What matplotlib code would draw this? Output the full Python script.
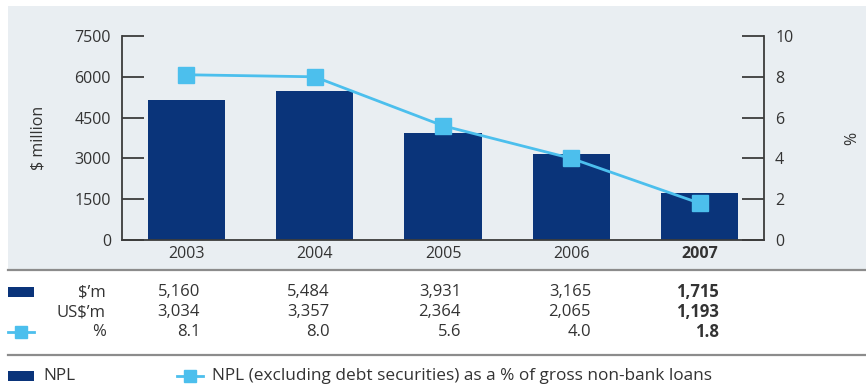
import matplotlib
matplotlib.use("Agg")
import matplotlib.pyplot as plt
from matplotlib.patches import Rectangle
from matplotlib.lines import Line2D

plt.rcParams['font.family'] = ['Open Sans', 'DejaVu Sans']

years = ["2003", "2004", "2005", "2006", "2007"]
npl_sgd = [5160, 5484, 3931, 3165, 1715]
npl_usd = [3034, 3357, 2364, 2065, 1193]
npl_pct = [8.1, 8.0, 5.6, 4.0, 1.8]
left_ticks = [0, 1500, 3000, 4500, 6000, 7500]
right_ticks = [0, 2, 4, 6, 8, 10]
row_labels = ["$\u2019m", "US$\u2019m", "%"]

NAVY = "#0a347a"
SKY = "#4cbfed"
PANEL = "#e9eef2"
TXT = "#333333"
SPINE = "#3c3c3c"
FS = 11.5

W, H = 866, 386
fig = plt.figure(figsize=(W / 100, H / 100), dpi=100)
fig.patch.set_facecolor("white")

def fx(px):
    return px / W

def fy(py):
    return 1 - py / H

# background panel
fig.patches.append(Rectangle((fx(8), fy(269)), 1 - fx(8), fy(6) - fy(269),
                             transform=fig.transFigure, facecolor=PANEL,
                             edgecolor="none", zorder=-5))

ax = fig.add_axes([fx(122), fy(240), fx(764) - fx(122), fy(36) - fy(240)])
ax.set_facecolor("none")
x = list(range(len(years)))
ax.bar(x, npl_sgd, width=0.6, color=NAVY, zorder=2)
ax.set_xlim(-0.5, 4.5)
ax.set_ylim(0, 7500)
ax.set_yticks(left_ticks)
ax.set_yticklabels([str(t) for t in left_ticks])
ax.set_xticks(x)
ax.set_xticklabels(years)
for lab in ax.get_xticklabels():
    if lab.get_text() == years[-1]:
        lab.set_fontweight("bold")
ax.tick_params(axis="y", direction="in", length=16, width=1.3, color=SPINE,
               labelsize=FS, labelcolor=TXT, pad=8)
ax.tick_params(axis="x", length=0, labelsize=FS, labelcolor=TXT, pad=4)
for s in ["top", "right"]:
    ax.spines[s].set_visible(False)
for s in ["left", "bottom"]:
    ax.spines[s].set_color(SPINE)
    ax.spines[s].set_linewidth(1.3)

ax2 = ax.twinx()
ax2.plot(x, npl_pct, color=SKY, lw=2, marker="s", ms=11, zorder=3)
ax2.set_ylim(0, 10)
ax2.set_yticks(right_ticks)
ax2.set_yticklabels([str(t) for t in right_ticks])
ax2.tick_params(axis="y", direction="in", length=16, width=1.3, color=SPINE,
                labelsize=FS, labelcolor=TXT, pad=8)
for s in ["top", "left", "bottom"]:
    ax2.spines[s].set_visible(False)
ax2.spines["right"].set_color(SPINE)
ax2.spines["right"].set_linewidth(1.3)

fig.text(fx(38), fy(138), "$ million", rotation=90, ha="center", va="center",
         fontsize=FS, color=TXT)
fig.text(fx(852), fy(138), "%", rotation=90, ha="center", va="center",
         fontsize=FS, color=TXT)

# separators
for py in (270, 355):
    fig.add_artist(Line2D([fx(8), 1], [fy(py), fy(py)], color="#8c8c8c", lw=1.6,
                          transform=fig.transFigure))

# data table
row_y = [292, 312, 332]
col_right = [200, 330, 461, 591, 719]
rows = [[f"{v:,}" for v in npl_sgd], [f"{v:,}" for v in npl_usd],
        [f"{v:.1f}" for v in npl_pct]]
for r, (lab, vals) in enumerate(zip(row_labels, rows)):
    fig.text(fx(106), fy(row_y[r]), lab, ha="right", va="center",
             fontsize=12, color=TXT)
    for c, v in enumerate(vals):
        fig.text(fx(col_right[c]), fy(row_y[r]), v, ha="right", va="center",
                 fontsize=12, color=TXT,
                 fontweight="bold" if c == len(vals) - 1 else "normal")

def bar_swatch(px, py):
    fig.patches.append(Rectangle((fx(px), fy(py + 5)), fx(26), fy(0) - fy(10),
                                 transform=fig.transFigure, facecolor=NAVY,
                                 edgecolor="none"))

def line_swatch(px, py):
    fig.add_artist(Line2D([fx(px), fx(px + 26)], [fy(py), fy(py)], color=SKY,
                          lw=2, transform=fig.transFigure))
    fig.add_artist(Line2D([fx(px + 13)], [fy(py)], color=SKY, marker="s", ms=8,
                          transform=fig.transFigure))

bar_swatch(8, row_y[0])
line_swatch(8, row_y[2])

# legend
bar_swatch(8, 376)
fig.text(fx(43), fy(376), "NPL", ha="left", va="center", fontsize=12.4, color=TXT)
line_swatch(177, 376)
fig.text(fx(212), fy(376), "NPL (excluding debt securities) as a % of gross non-bank loans",
         ha="left", va="center", fontsize=12.4, color=TXT)

fig.savefig("out.png", dpi=100, facecolor="white")
